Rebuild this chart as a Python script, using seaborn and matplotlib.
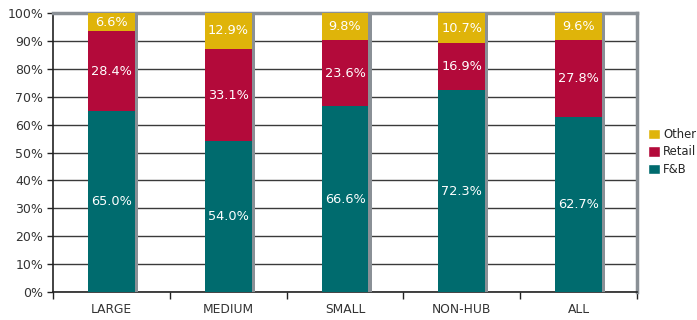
import matplotlib
matplotlib.use("Agg")
import matplotlib.pyplot as plt
import matplotlib.patheffects as pe
import seaborn as sns
import numpy as np
import pandas as pd
from matplotlib.ticker import FixedLocator, PercentFormatter
from matplotlib.patches import Patch

categories = ["LARGE", "MEDIUM", "SMALL", "NON-HUB", "ALL"]
fnb = [65.0, 54.0, 66.6, 72.3, 62.7]
retail = [28.4, 33.1, 23.6, 16.9, 27.8]
other = [6.6, 12.9, 9.8, 10.7, 9.6]

colors = {"F&B": "#006B6E", "Retail": "#B30A3A", "Other": "#DFB40A"}

sns.set_theme(style="white")
plt.rcParams["font.family"] = ["DejaVu Sans"]

fig = plt.figure(figsize=(6.97, 3.20), dpi=100)
ax = fig.add_axes([53/697, 28/320, (637-53)/697, (292-13)/320])

df = pd.DataFrame({"cat": categories, "F&B": fnb, "Retail": retail, "Other": other})
bottom = np.zeros(len(categories))
shadow = [pe.SimplePatchShadow(offset=(2.4, 0), shadow_rgbFace="#8A9096", alpha=1.0), pe.Normal()]
for name in ["F&B", "Retail", "Other"]:
    vals = df[name].to_numpy()
    sns.barplot(data=df, x="cat", y=name, bottom=bottom, color=colors[name],
                saturation=1, width=0.4, ax=ax, zorder=3, linewidth=0)
    n0 = len(ax.patches) - len(categories)
    for p in ax.patches[n0:]:
        p.set_path_effects(shadow)
    for i, v in enumerate(vals):
        ax.text(i, bottom[i] + v / 2, f"{v:.1f}%", ha="center", va="center",
                color="white", fontsize=9.3, zorder=5)
    bottom = bottom + vals

ax.set_xlim(-0.5, 4.5)
ax.set_ylim(0, 100)
ax.set_xlabel("")
ax.set_ylabel("")
ax.yaxis.set_major_locator(FixedLocator(np.arange(0, 101, 10)))
ax.yaxis.set_major_formatter(PercentFormatter(decimals=0))
ax.set_xticks(range(len(categories)))
ax.set_xticklabels(categories)
ax.xaxis.set_minor_locator(FixedLocator(np.arange(-0.5, 4.6, 1)))
ax.tick_params(axis="x", which="major", length=0, pad=8, labelsize=8.8, labelcolor="#333333")
ax.tick_params(axis="x", which="minor", length=5, width=1, color="#222222", direction="out", bottom=True)
ax.tick_params(axis="y", length=4, width=1, color="#222222", direction="out", left=True,
               labelsize=9, labelcolor="#333333", pad=3)
ax.grid(axis="y", color="#3a3a3a", linewidth=1, zorder=1)
ax.set_axisbelow(True)

for s in ["top", "right"]:
    ax.spines[s].set_color("#8A9096")
    ax.spines[s].set_linewidth(2.5)
for s in ["left", "bottom"]:
    ax.spines[s].set_color("#222222")
    ax.spines[s].set_linewidth(1.2)

handles = [Patch(facecolor=colors[k], label=k) for k in ["Other", "Retail", "F&B"]]
fig.legend(handles=handles, loc="center left", bbox_to_anchor=(648/697, 1 - 152/320),
           frameon=False, fontsize=8.4, handlelength=1.0, handleheight=1.0,
           handletextpad=0.3, labelspacing=0.4, borderpad=0, borderaxespad=0)

fig.savefig("out.png", dpi=100)
